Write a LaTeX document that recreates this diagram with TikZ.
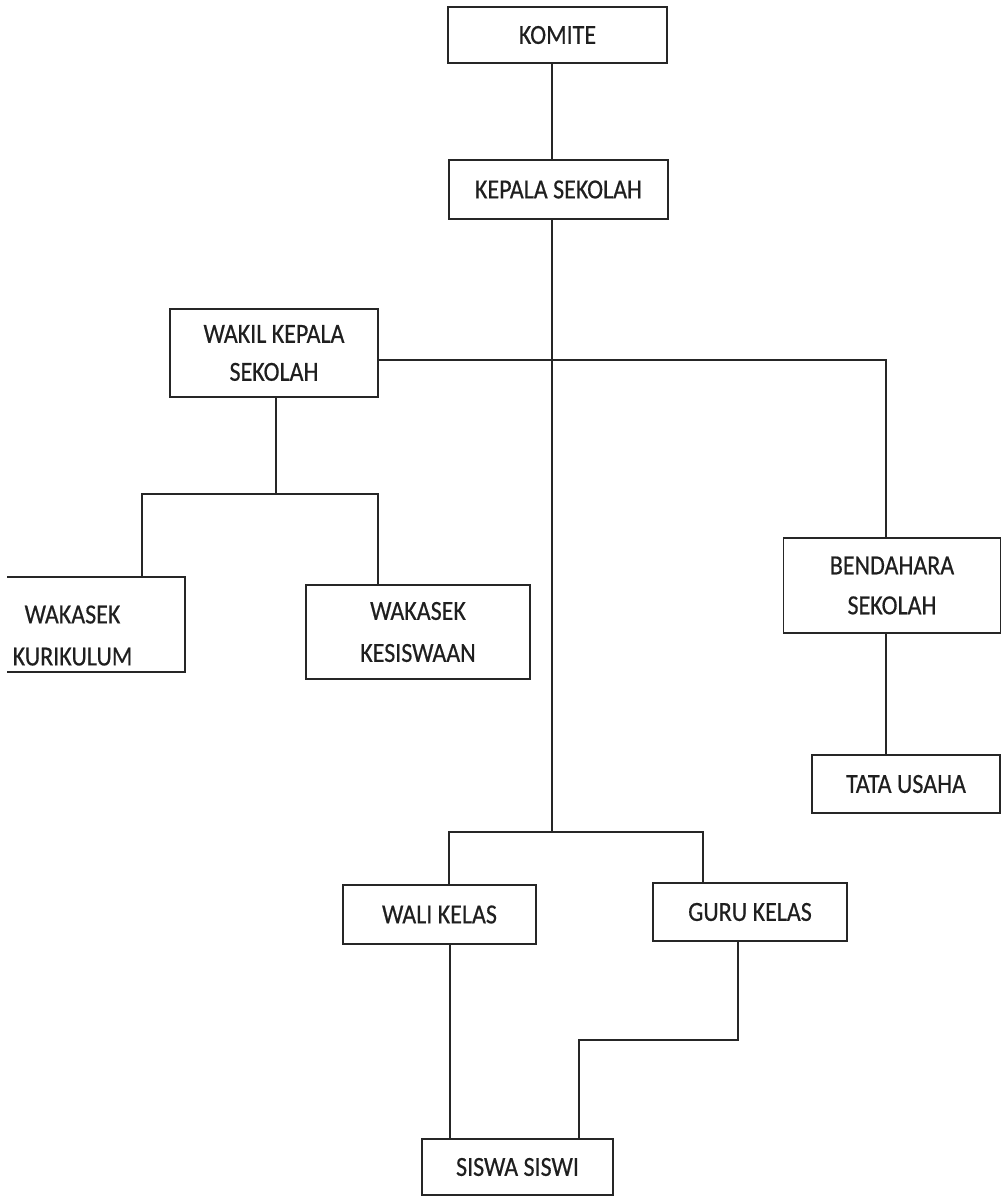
\documentclass[tikz,border=0pt]{standalone}
\usepackage{fontspec}
\usepackage{graphicx}
\setmainfont{Carlito}
\newfontfamily\scanfont{Carlito}[FakeBold=0.5]
\newcommand{\tx}[1]{\scalebox{1}[1.15]{#1}}
\begin{document}
\begin{tikzpicture}[x=1pt,y=-1pt,
  box/.style={draw=black!85, line width=1.7pt, inner sep=0pt, align=center,
    font=\scanfont\fontsize{24}{40}\selectfont, text=black!88},
  conn/.style={draw=black!85, line width=1.7pt}]
\useasboundingbox[fill=white] (0,0) rectangle (1002,1197);
% nodes
\node[box, minimum width=219pt, minimum height=56pt] (komite) at (557.5,35) {\tx{KOMITE}};
\node[box, minimum width=219pt, minimum height=59pt] (kepala) at (558.5,189.5) {\tx{KEPALA SEKOLAH}};
\node[box, minimum width=208pt, minimum height=88pt] (wakil) at (274,353) {\tx{WAKIL KEPALA}\\[-2pt]\tx{SEKOLAH}};
\begin{scope}
\clip (7,560) rectangle (300,700);
\node[box, minimum width=225pt, minimum height=95pt] (kur) at (72.5,624.5) {\rule{0pt}{40pt}\tx{WAKASEK}\\[2pt]\tx{KURIKULUM}};
\end{scope}
\node[box, minimum width=224pt, minimum height=94pt] (kes) at (418,632) {\tx{WAKASEK}\\[2pt]\tx{KESISWAAN}};
\node[box, minimum width=217pt, minimum height=95pt] (bend) at (892,585.5) {\tx{BENDAHARA}\\\tx{SEKOLAH}};
\node[box, minimum width=188pt, minimum height=58pt] (tata) at (906,784) {\tx{TATA USAHA}};
\node[box, minimum width=193pt, minimum height=59pt] (wali) at (439.5,914.5) {\tx{WALI KELAS}};
\node[box, minimum width=194pt, minimum height=58pt] (guru) at (750,912) {\tx{GURU KELAS}};
\node[box, minimum width=191pt, minimum height=56pt] (siswa) at (517.5,1167) {\tx{SISWA SISWI}};
% helper coordinates
\coordinate (mainx) at (552,0);
\coordinate (hy) at (0,360);
\coordinate (rx) at (886,0);
\coordinate (wx) at (276,0);
\coordinate (wsplit) at (276,494);
\coordinate (kurx) at (142,0);
\coordinate (kesx) at (378,0);
\coordinate (bsplit) at (552,832);
\coordinate (walix) at (449,0);
\coordinate (gurux) at (703,0);
\coordinate (wdown) at (450,0);
\coordinate (gdown) at (738,0);
\coordinate (gy) at (0,1040);
\coordinate (sx) at (579,0);
% connectors
\draw[conn] (komite.south -| mainx) -- (kepala.north -| mainx);
\draw[conn] (kepala.south -| mainx) -- (bsplit);
\draw[conn] (wakil.east |- hy) -- (rx |- hy) -- (bend.north -| rx);
\draw[conn] (bend.south -| rx) -- (tata.north -| rx);
\draw[conn] (wakil.south -| wx) -- (wsplit);
\draw[conn] (kur.north -| kurx) -- (kurx |- wsplit) -- (kesx |- wsplit) -- (kes.north -| kesx);
\draw[conn] (wali.north -| walix) -- (walix |- bsplit) -- (gurux |- bsplit) -- (guru.north -| gurux);
\draw[conn] (wali.south -| wdown) -- (siswa.north -| wdown);
\draw[conn] (guru.south -| gdown) -- (gdown |- gy) -- (sx |- gy) -- (siswa.north -| sx);
\end{tikzpicture}
\end{document}
